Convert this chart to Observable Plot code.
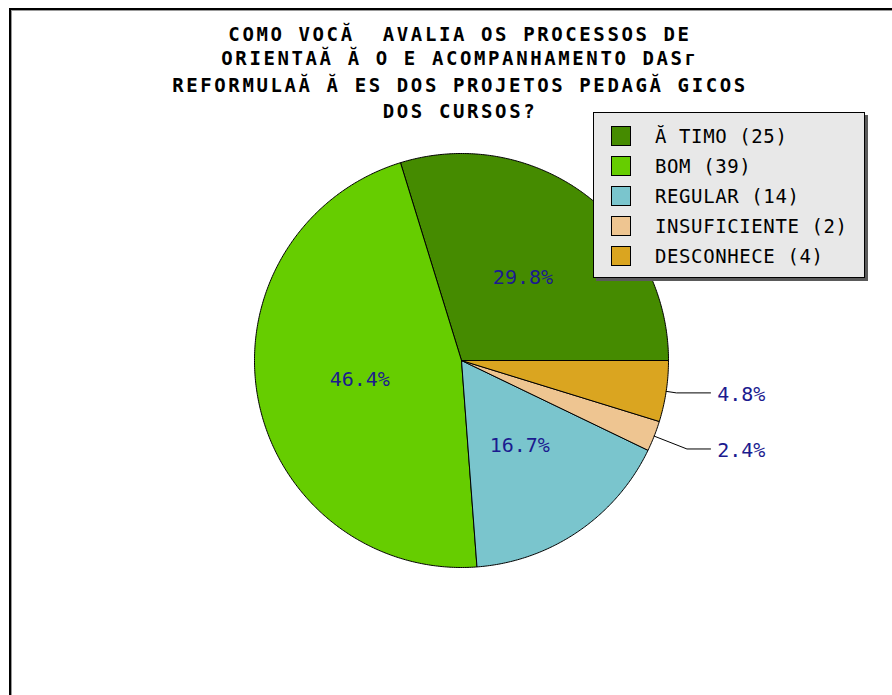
<!DOCTYPE html>
<html>
<head>
<meta charset="utf-8">
<script src="https://cdn.jsdelivr.net/npm/d3@7"></script>
<script src="https://cdn.jsdelivr.net/npm/@observablehq/plot@0.6"></script>
<style>
  html, body { margin: 0; padding: 0; background: #fff; }
  #wrap { position: relative; width: 892px; height: 695px; overflow: hidden; background: #fff; }
  #wrap > * { position: absolute; }
  .legend { left: 593px; top: 112px; width: 270px; height: 164px; background: #e8e8e8; border: 1px solid #000; box-shadow: 3px 3px 0 #5a5a5a; }
  .row { position: absolute; left: 0; height: 20px; }
  .sw { position: absolute; left: 17px; top: 0; width: 18px; height: 18px; border: 1px solid #000; }
  .lt { position: absolute; left: 61px; top: -2px; font-family: "DejaVu Sans Mono", monospace; font-size: 19px; letter-spacing: 0.6px; line-height: 24px; color: #000; white-space: pre; }
</style>
</head>
<body>
<div id="wrap">
  <div style="left:9px;top:8px;width:883px;height:2px;background:#000"></div>
  <div style="left:11px;top:10px;width:881px;height:1px;background:#999"></div>
  <div style="left:9px;top:8px;width:2px;height:687px;background:#000"></div>
  <div style="left:11px;top:10px;width:1px;height:685px;background:#999"></div>
</div>
<script>
// ---- data ----
const names = ["Ă TIMO", "BOM", "REGULAR", "INSUFICIENTE", "DESCONHECE"];
const counts = [25, 39, 14, 2, 4];
const colors = ["#458B00", "#66CD00", "#7AC5CD", "#EEC591", "#DAA520"];
const titleLines = [
  "COMO VOCĂ  AVALIA OS PROCESSOS DE",
  "ORIENTAĂ Ă O E ACOMPANHAMENTO DASг",
  "REFORMULAĂ Ă ES DOS PROJETOS PEDAGĂ GICOS",
  "DOS CURSOS?"
];

// ---- derived geometry ----
const total = d3.sum(counts);
let cum = 0;
const slices = names.map((name, i) => {
  const a0 = cum / total * 2 * Math.PI;
  cum += counts[i];
  const a1 = cum / total * 2 * Math.PI;
  return {name, a0, a1, mid: (a0 + a1) / 2, pct: counts[i] / total * 100};
});

const points = [];
for (const s of slices) {
  points.push({name: s.name, x: 0, y: 0});
  const n = Math.max(2, Math.ceil((s.a1 - s.a0) / (Math.PI / 360)));
  for (let k = 0; k <= n; k++) {
    const a = s.a0 + (s.a1 - s.a0) * k / n;
    points.push({name: s.name, x: Math.cos(a), y: Math.sin(a)});
  }
  points.push({name: s.name, x: 0, y: 0});
}

const inner = slices.filter(s => s.pct >= 10).map(s => ({
  x: 0.5 * Math.cos(s.mid), y: 0.5 * Math.sin(s.mid), text: s.pct.toFixed(1) + "%"
}));
const outerSlices = slices.filter(s => s.pct < 10);
const kneeR = {"INSUFICIENTE": 1.17, "DESCONHECE": 1.05};
const guides = [];
const outer = [];
for (const s of outerSlices) {
  const k = kneeR[s.name] || 1.1;
  const kx = k * Math.cos(s.mid), ky = k * Math.sin(s.mid);
  guides.push({name: s.name, x: Math.cos(s.mid), y: Math.sin(s.mid)});
  guides.push({name: s.name, x: kx, y: ky});
  guides.push({name: s.name, x: 1.203, y: ky});
  outer.push({x: 1.235, y: ky - 0.01, text: s.pct.toFixed(1) + "%"});
}

const labelColor = "#1b1b8f";
const chart = Plot.plot({
  width: 892, height: 695,
  marginLeft: 254, marginRight: 224, marginTop: 153, marginBottom: 128,
  x: {domain: [-1, 1], axis: null},
  y: {domain: [-1, 1], axis: null},
  color: {domain: names, range: colors},
  style: {background: "transparent", overflow: "visible"},
  marks: [
    Plot.line(points, {x: "x", y: "y", z: "name", fill: "name", stroke: "#000", strokeWidth: 1, strokeLinejoin: "miter"}),
    Plot.line(guides, {x: "x", y: "y", z: "name", stroke: "#000", strokeWidth: 1}),
    Plot.text(inner, {x: "x", y: "y", text: "text", fill: labelColor, fontFamily: "DejaVu Sans Mono", fontSize: 20}),
    Plot.text(outer, {x: "x", y: "y", text: "text", fill: labelColor, fontFamily: "DejaVu Sans Mono", fontSize: 20, textAnchor: "start"})
  ]
});
chart.style.left = "0px";
chart.style.top = "0px";
const wrap = document.getElementById("wrap");
wrap.appendChild(chart);

// title
const baselines = [41, 65, 92, 118];
const tsvg = d3.create("svg").attr("width", 892).attr("height", 130).style("left", "0px").style("top", "0px");
tsvg.selectAll("text").data(titleLines).join("text")
  .attr("x", 460).attr("y", (d, i) => baselines[i])
  .attr("text-anchor", "middle")
  .attr("font-family", "DejaVu Sans Mono")
  .attr("font-weight", "bold")
  .attr("font-size", 19)
  .attr("letter-spacing", 2.6)
  .attr("fill", "#000")
  .style("white-space", "pre")
  .text(d => d);
wrap.appendChild(tsvg.node());

// legend
const leg = document.createElement("div");
leg.className = "legend";
names.forEach((n, i) => {
  const row = document.createElement("div");
  row.className = "row";
  row.style.top = (13 + i * 30) + "px";
  const sw = document.createElement("div");
  sw.className = "sw";
  sw.style.background = colors[i];
  const lt = document.createElement("div");
  lt.className = "lt";
  lt.textContent = `${n} (${counts[i]})`;
  row.appendChild(sw); row.appendChild(lt);
  leg.appendChild(row);
});
wrap.appendChild(leg);
</script>
</body>
</html>
